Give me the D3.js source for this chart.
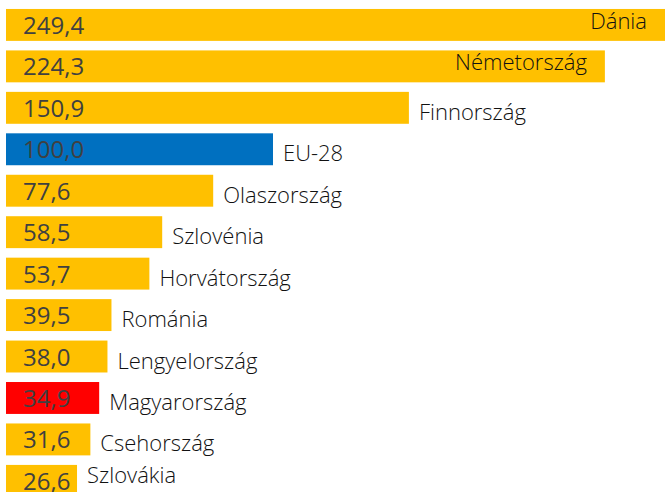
<!DOCTYPE html>
<html>
<head>
<meta charset="utf-8">
<script src="https://cdn.jsdelivr.net/npm/d3@7"></script>
<style>
  body { margin: 0; background: #fff; }
  svg { display: block; }
</style>
</head>
<body>
<script>
// data
const countries = ['Dánia', 'Németország', 'Finnország', 'EU-28', 'Olaszország', 'Szlovénia',
    'Horvátország', 'Románia', 'Lengyelország', 'Magyarország', 'Csehország', 'Szlovákia']
const values = [249.4, 224.3, 150.9, 100.0, 77.6, 58.5, 53.7, 39.5, 38.0, 34.9, 31.6, 26.6]

const w = 665
const h = 492

const colour = name => name === 'EU-28' ? '#0070C0' : name === 'Magyarország' ? '#FF0000' : '#FFC000'

const data = countries.map((c, i) => ({ name: c, value: values[i] }))

const svg = d3.select('body')
    .append('svg')
    .attr('width', w)
    .attr('height', h)

// scales
const x = d3.scaleLinear().domain([0, 100]).range([6, 273])
const y = d3.scaleBand()
    .domain(countries)
    .range([4.2, 4.2 + 12 * 41.45])
    .paddingInner(0.23)
    .paddingOuter(0.115)

// bars
svg.selectAll('rect.bar')
    .data(data)
    .enter()
    .append('rect')
    .attr('class', 'bar')
    .attr('x', x(0))
    .attr('y', d => y(d.name))
    .attr('width', d => x(d.value) - x(0))
    .attr('height', y.bandwidth())
    .style('fill', d => colour(d.name))

// value labels
svg.selectAll('text.val')
    .data(data)
    .enter()
    .append('text')
    .attr('class', 'val')
    .attr('x', x(0) + 17)
    .attr('y', d => y(d.name) + y.bandwidth() / 2 + 9)
    .text(d => d3.format('.1f')(d.value).replace('.', ','))
    .style('font-family', 'Open Sans, sans-serif')
    .style('font-size', '24px')
    .style('font-weight', 500)
    .style('fill', '#404040')

// country labels: outside the bar, or inside when they do not fit
const names = svg.selectAll('text.name')
    .data(data)
    .enter()
    .append('text')
    .attr('class', 'name')
    .text(d => d.name)
    .style('font-family', 'Open Sans, sans-serif')
    .style('font-size', '22px')
    .style('font-weight', 300)
    .style('fill', '#111')

names.each(function (d) {
    const t = d3.select(this)
    const tw = this.getComputedTextLength()
    const end = x(d.value)
    const cy = y(d.name) + y.bandwidth() / 2
    if (end + 10 + tw > w) {
        t.attr('x', Math.min(end, w) - 18)
            .attr('y', cy + 4)
            .attr('text-anchor', 'end')
    } else {
        t.attr('x', end + 10)
            .attr('y', Math.min(cy + 12, h - 9))
    }
})
</script>
</body>
</html>
